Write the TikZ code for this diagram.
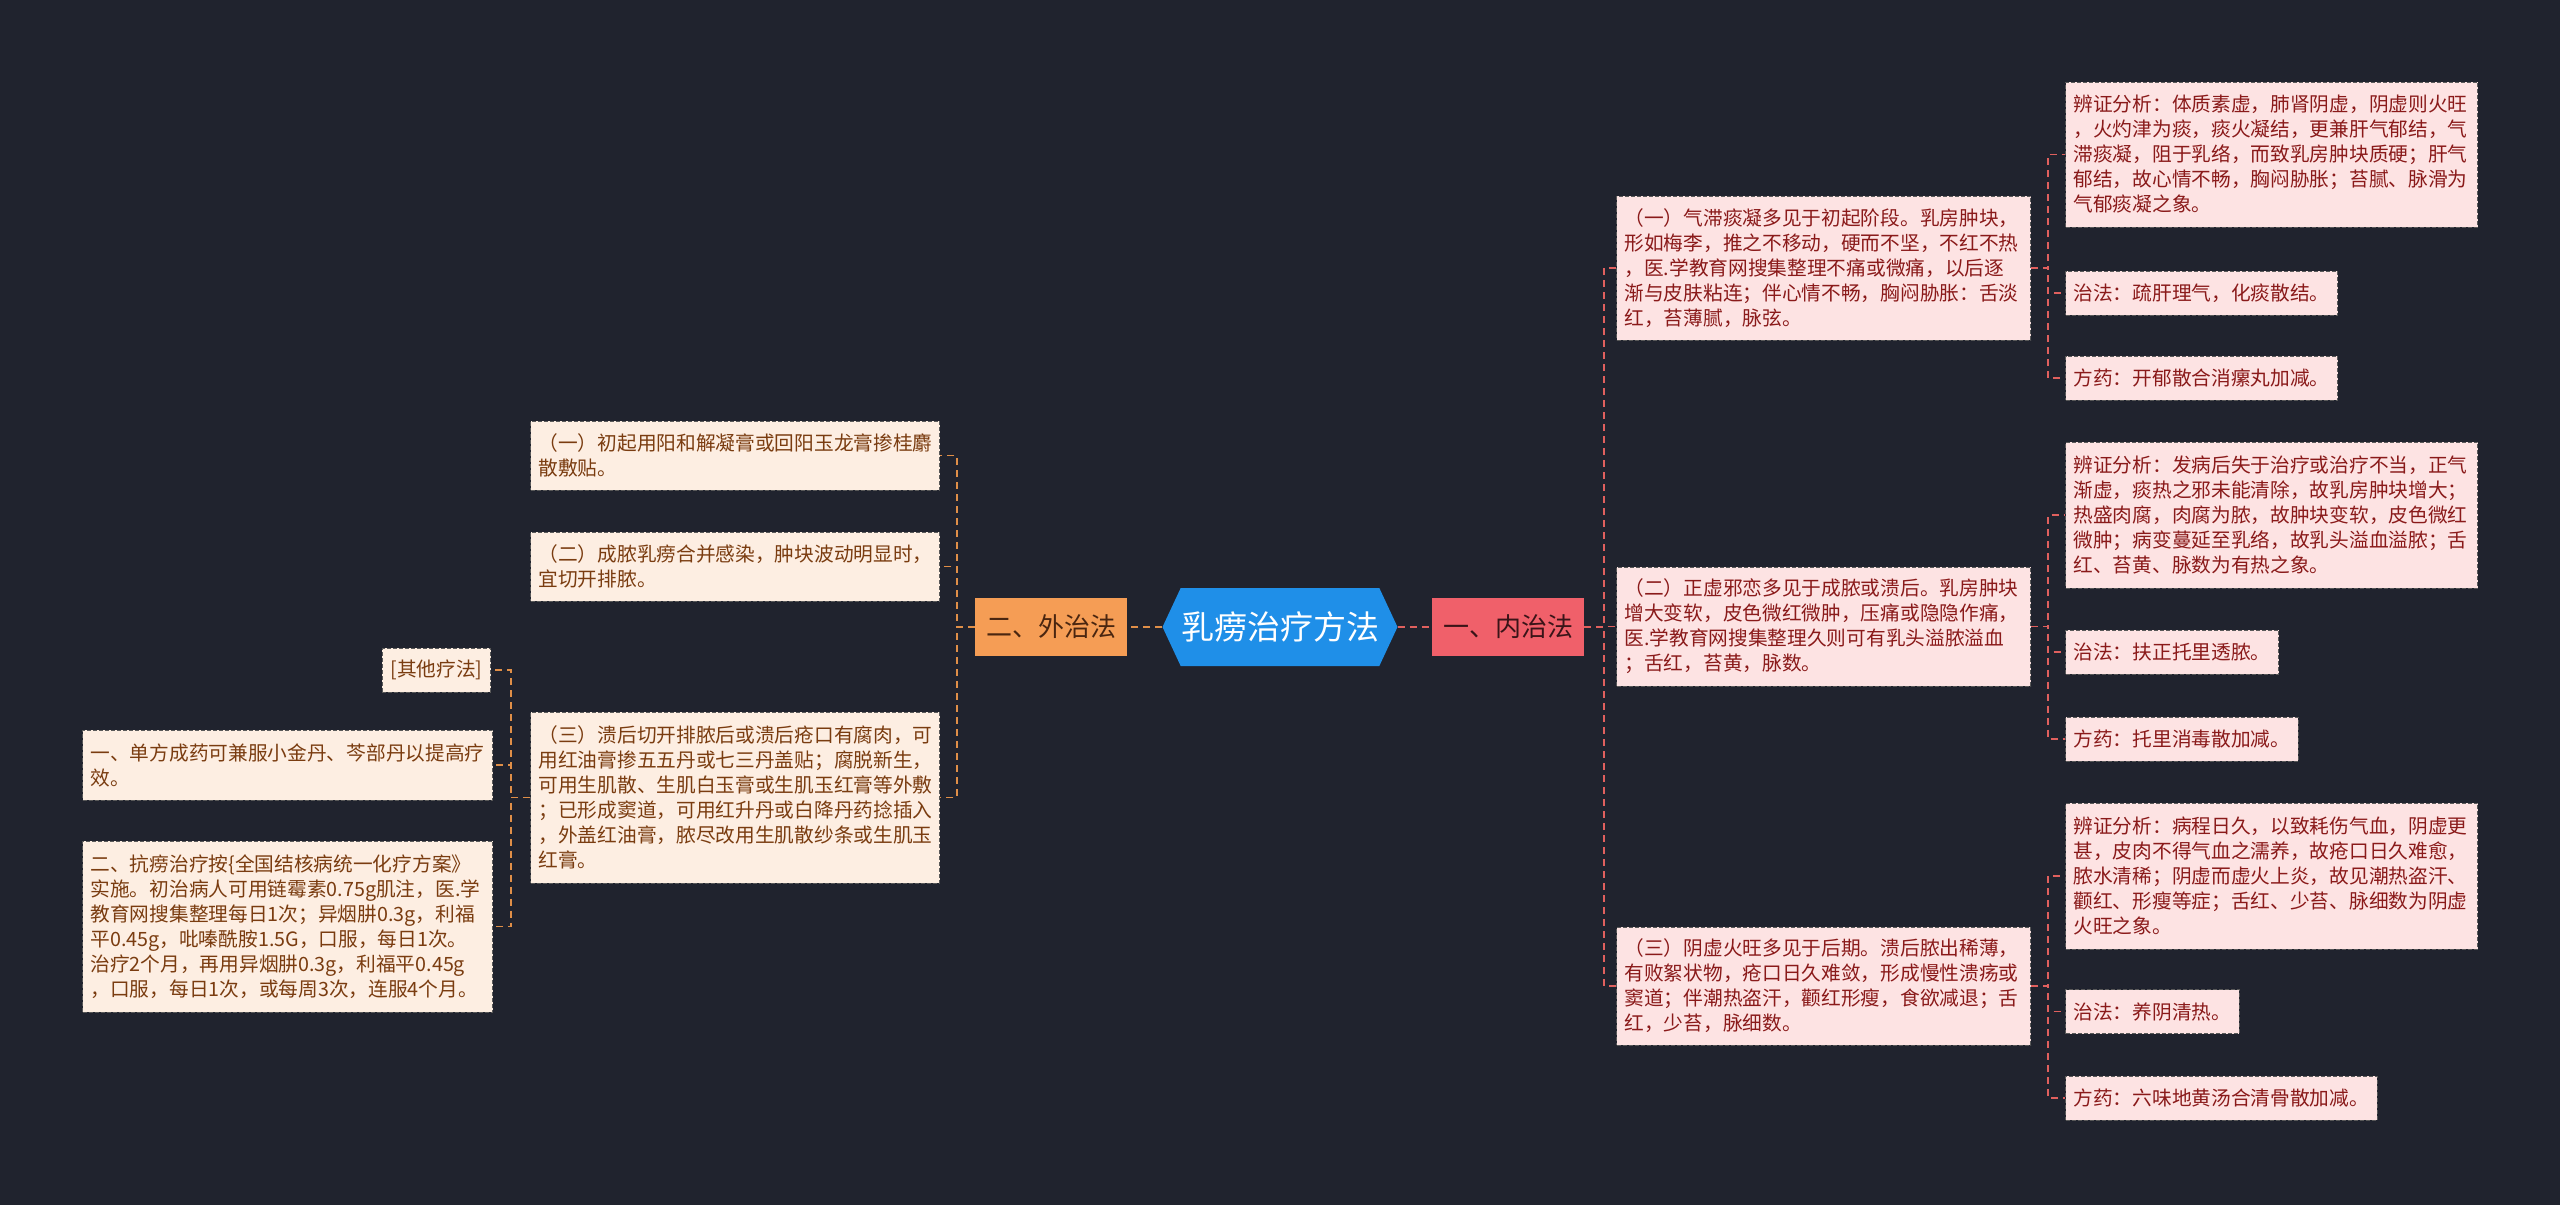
\documentclass[tikz,border=0pt]{standalone}
\usepackage{fontspec}
\setmainfont{Noto Sans CJK SC}
\usetikzlibrary{shapes.symbols}

\definecolor{bgnavy}{HTML}{20232E}
\definecolor{rootblue}{HTML}{1F8FE8}
\definecolor{neired}{HTML}{F0606A}
\definecolor{neitext}{HTML}{3A1418}
\definecolor{waiorange}{HTML}{F59D55}
\definecolor{waitext}{HTML}{4A2610}
\definecolor{rpink}{HTML}{FDE3E3}
\definecolor{rtext}{HTML}{8A1A1A}
\definecolor{lpeach}{HTML}{FDEEE2}
\definecolor{ltext}{HTML}{7A3C10}
\definecolor{rline}{HTML}{E0605E}
\definecolor{lline}{HTML}{E08F48}

\newcommand{\bodysize}{\fontsize{19.7}{25}\selectfont}

\begin{document}
\begin{tikzpicture}[
  x=1pt, y=-1pt,
  root/.style={signal, signal to=east and west, signal pointer angle=130,
               fill=rootblue, text=white, font=\fontsize{33}{40}\selectfont,
               minimum width=235pt, minimum height=78pt, inner sep=0pt},
  branch/.style={font=\fontsize{26}{30}\selectfont, minimum width=152pt,
                 minimum height=58pt, inner sep=0pt},
  rnote/.style={draw=black!65, dash pattern=on 4pt off 2pt, line width=1pt,
                fill=rpink, text=rtext, font=\bodysize, align=left,
                inner xsep=8pt, inner ysep=4pt, anchor=west},
  lnote/.style={rnote, fill=lpeach, text=ltext, anchor=east},
  rlink/.style={draw=rline, line width=1.5pt, dash pattern=on 7pt off 5pt},
  llink/.style={rlink, draw=lline}
]
  \useasboundingbox (0,0) rectangle (2560,1205);
  \fill[bgnavy] (0,0) rectangle (2560,1205);

  % ================= CENTRE =================
  \node[root] (root) at (1280,627) {乳痨治疗方法};
  \node[branch, fill=neired, text=neitext] (nei) at (1508,627) {一、内治法};
  \node[branch, fill=waiorange, text=waitext] (wai) at (1051,627) {二、外治法};

  % ================= RIGHT: NEI ZHI FA =================
  \node[rnote, text width=398pt, minimum height=144pt] (n1) at (1616,268)
    {（一）气滞痰凝多见于初起阶段。乳房肿块，\\
     形如梅李，推之不移动，硬而不坚，不红不热\\
     ，医.学教育网搜集整理不痛或微痛，以后逐\\
     渐与皮肤粘连；伴心情不畅，胸闷胁胀：舌淡\\
     红，苔薄腻，脉弦。};
  \node[rnote, text width=398pt, minimum height=119pt] (n2) at (1616,626.5)
    {（二）正虚邪恋多见于成脓或溃后。乳房肿块\\
     增大变软，皮色微红微肿，压痛或隐隐作痛，\\
     医.学教育网搜集整理久则可有乳头溢脓溢血\\
     ；舌红，苔黄，脉数。};
  \node[rnote, text width=398pt, minimum height=118pt] (n3) at (1616,986)
    {（三）阴虚火旺多见于后期。溃后脓出稀薄，\\
     有败絮状物，疮口日久难敛，形成慢性溃疡或\\
     窦道；伴潮热盗汗，颧红形瘦，食欲减退；舌\\
     红，少苔，脉细数。};

  \node[rnote, text width=396pt, minimum height=145pt] (a1) at (2065,154.5)
    {辨证分析：体质素虚，肺肾阴虚，阴虚则火旺\\
     ，火灼津为痰，痰火凝结，更兼肝气郁结，气\\
     滞痰凝，阻于乳络，而致乳房肿块质硬；肝气\\
     郁结，故心情不畅，胸闷胁胀；苔腻、脉滑为\\
     气郁痰凝之象。};
  \node[rnote, minimum height=44pt] (b1) at (2065,293) {治法：疏肝理气，化痰散结。};
  \node[rnote, minimum height=44pt] (c1) at (2065,378) {方药：开郁散合消瘰丸加减。};

  \node[rnote, text width=396pt, minimum height=146pt] (a2) at (2065,515)
    {辨证分析：发病后失于治疗或治疗不当，正气\\
     渐虚，痰热之邪未能清除，故乳房肿块增大；\\
     热盛肉腐，肉腐为脓，故肿块变软，皮色微红\\
     微肿；病变蔓延至乳络，故乳头溢血溢脓；舌\\
     红、苔黄、脉数为有热之象。};
  \node[rnote, minimum height=44pt] (b2) at (2065,652) {治法：扶正托里透脓。};
  \node[rnote, minimum height=44pt] (c2) at (2065,739) {方药：托里消毒散加减。};

  \node[rnote, text width=396pt, minimum height=146pt] (a3) at (2065,876)
    {辨证分析：病程日久，以致耗伤气血，阴虚更\\
     甚，皮肉不得气血之濡养，故疮口日久难愈，\\
     脓水清稀；阴虚而虚火上炎，故见潮热盗汗、\\
     颧红、形瘦等症；舌红、少苔、脉细数为阴虚\\
     火旺之象。};
  \node[rnote, minimum height=44pt] (b3) at (2065,1011.5) {治法：养阴清热。};
  \node[rnote, minimum height=44pt] (c3) at (2065,1098) {方药：六味地黄汤合清骨散加减。};

  % ================= LEFT: WAI ZHI FA =================
  \node[lnote, text width=393pt, minimum height=69pt] (w1) at (940,455.5)
    {（一）初起用阳和解凝膏或回阳玉龙膏掺桂麝\\
     散敷贴。};
  \node[lnote, text width=393pt, minimum height=69pt] (w2) at (940,566.5)
    {（二）成脓乳痨合并感染，肿块波动明显时，\\
     宜切开排脓。};
  \node[lnote, text width=393pt, minimum height=171pt] (w3) at (940,797.5)
    {（三）溃后切开排脓后或溃后疮口有腐肉，可\\
     用红油膏掺五五丹或七三丹盖贴；腐脱新生，\\
     可用生肌散、生肌白玉膏或生肌玉红膏等外敷\\
     ；已形成窦道，可用红升丹或白降丹药捻插入\\
     ，外盖红油膏，脓尽改用生肌散纱条或生肌玉\\
     红膏。};

  \node[lnote, minimum height=44pt] (qt) at (491,670) {[其他疗法]};
  \node[lnote, text width=394pt, minimum height=70pt] (o1) at (493,765)
    {一、单方成药可兼服小金丹、芩部丹以提高疗\\
     效。};
  \node[lnote, text width=394pt, minimum height=171pt] (o2) at (493,926.5)
    {二、抗痨治疗按\{全国结核病统一化疗方案》\\
     实施。初治病人可用链霉素0.75g肌注，医.学\\
     教育网搜集整理每日1次；异烟肼0.3g，利福\\
     平0.45g，吡嗪酰胺1.5G，口服，每日1次。\\
     治疗2个月，再用异烟肼0.3g，利福平0.45g\\
     ，口服，每日1次，或每周3次，连服4个月。};

  % ================= CONNECTORS =================
  \draw[rlink] (root.east) -- (nei.west);
  \draw[llink] (root.west) -- (wai.east);

  \draw[rlink] (nei.east) -- ++(20,0) |- (n1.west)
               (nei.east) -- ++(20,0) |- (n2.west)
               (nei.east) -- ++(20,0) |- (n3.west);
  \draw[rlink] (n1.east) -- ++(17,0) |- (a1.west)
               (n1.east) -- ++(17,0) |- (b1.west)
               (n1.east) -- ++(17,0) |- (c1.west);
  \draw[rlink] (n2.east) -- ++(17,0) |- (a2.west)
               (n2.east) -- ++(17,0) |- (b2.west)
               (n2.east) -- ++(17,0) |- (c2.west);
  \draw[rlink] (n3.east) -- ++(17,0) |- (a3.west)
               (n3.east) -- ++(17,0) |- (b3.west)
               (n3.east) -- ++(17,0) |- (c3.west);

  \draw[llink] (wai.west) -- ++(-18,0) |- (w1.east)
               (wai.west) -- ++(-18,0) |- (w2.east)
               (wai.west) -- ++(-18,0) |- (w3.east);
  \draw[llink] (w3.west) -- ++(-19,0) |- (qt.east)
               (w3.west) -- ++(-19,0) |- (o1.east)
               (w3.west) -- ++(-19,0) |- (o2.east);
\end{tikzpicture}
\end{document}
